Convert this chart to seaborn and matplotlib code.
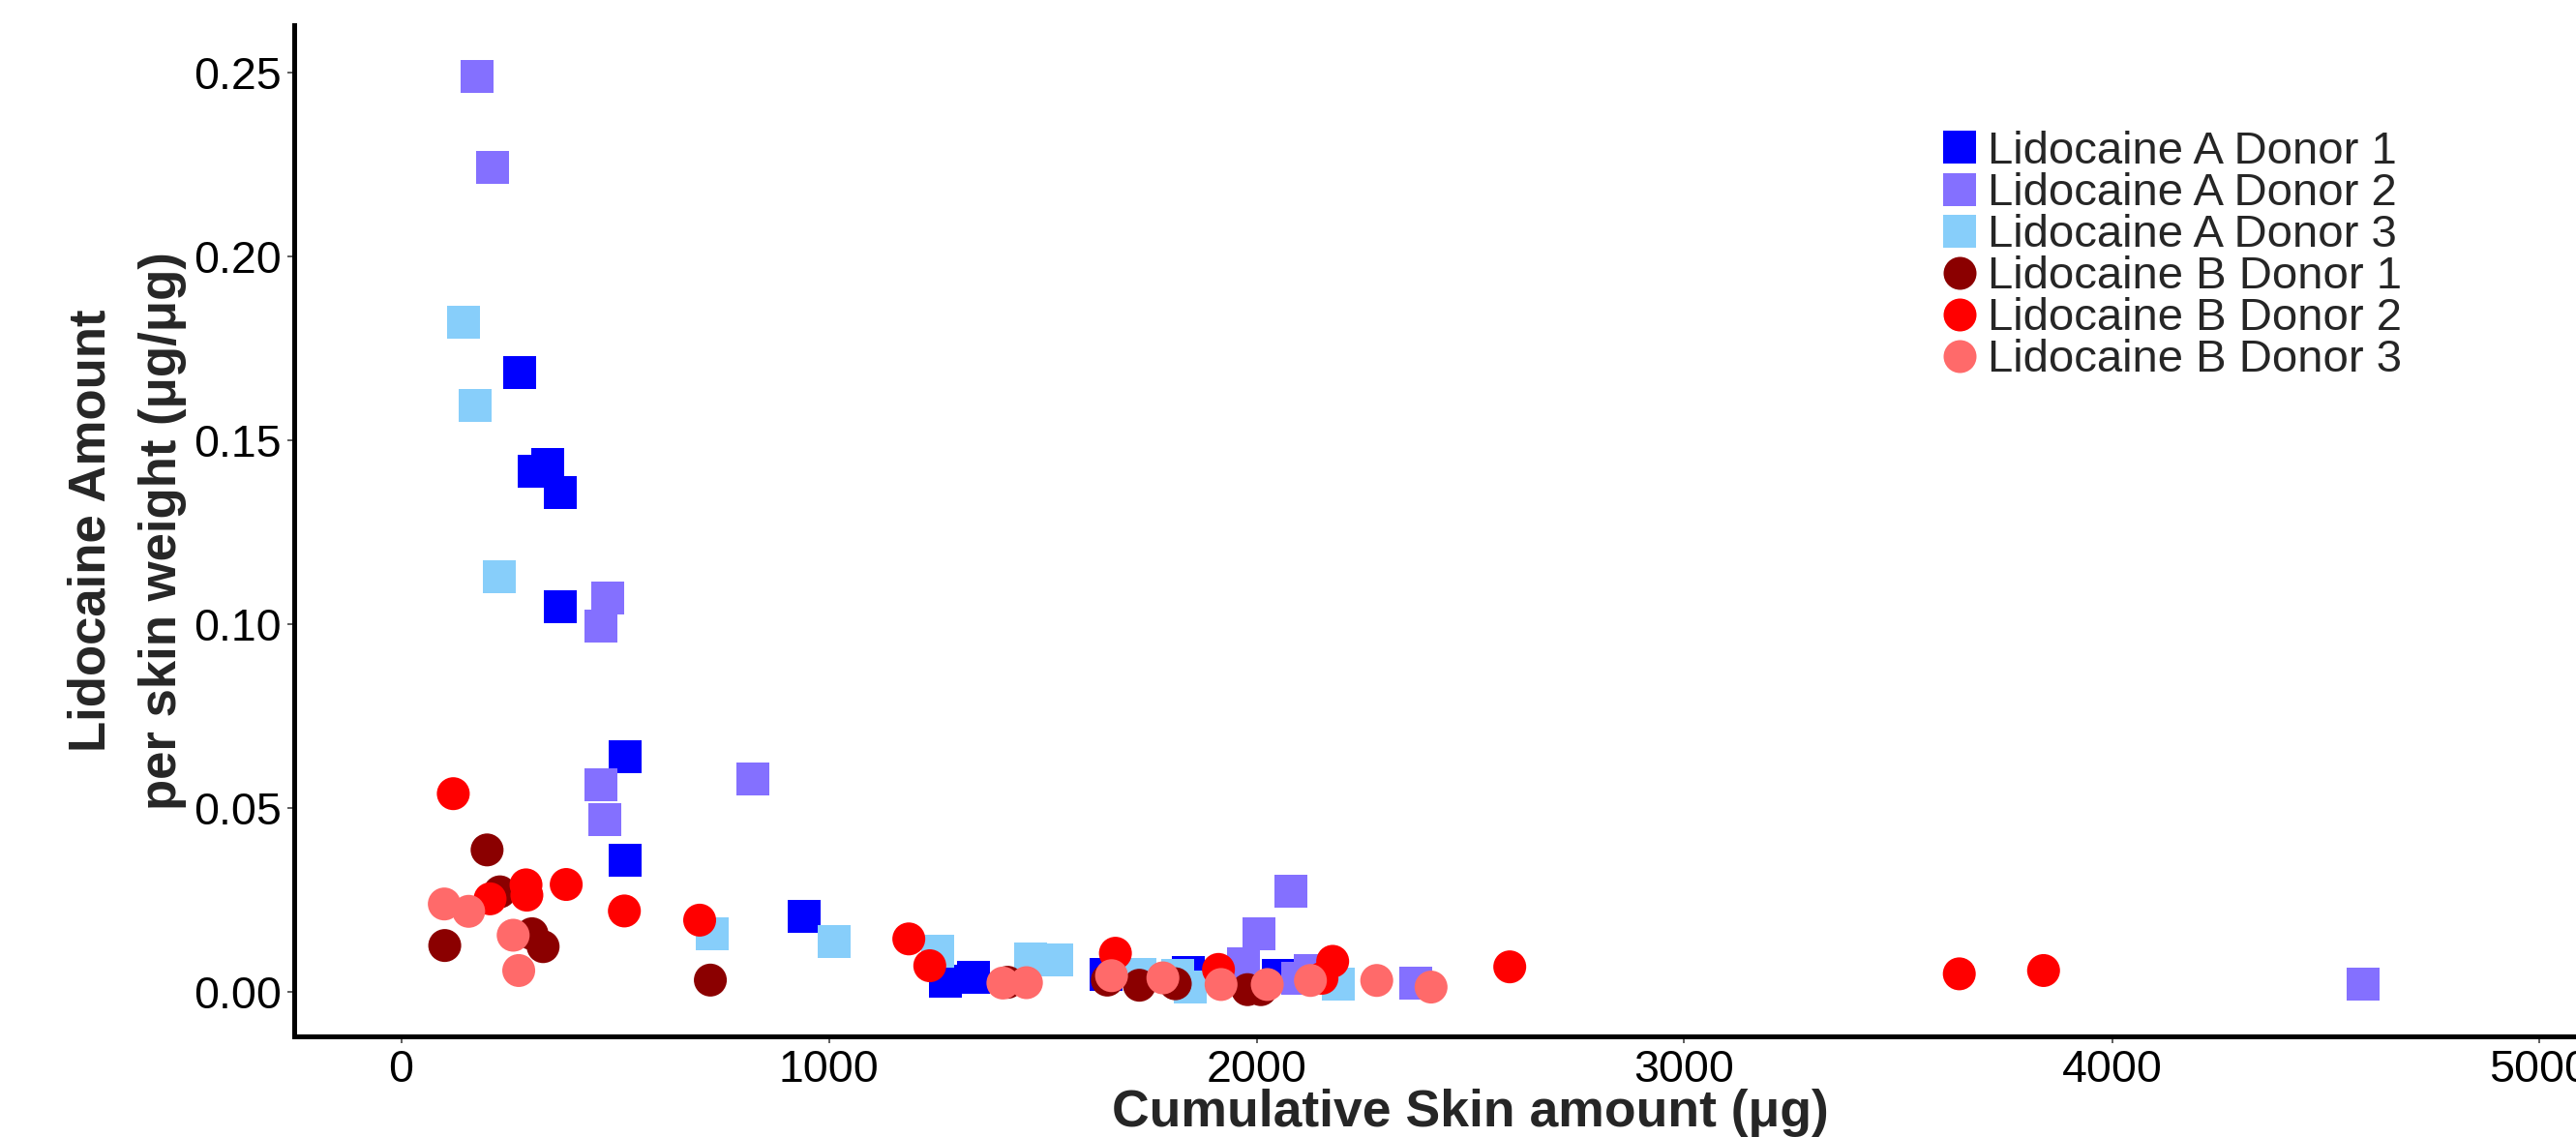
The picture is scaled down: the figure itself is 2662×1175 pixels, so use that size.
import numpy as np
import pandas as pd
import matplotlib
matplotlib.use("Agg")
import matplotlib.pyplot as plt
from matplotlib.lines import Line2D
from matplotlib.ticker import FormatStrFormatter
import seaborn as sns

# Cumulative skin amount (µg) and lidocaine amount per skin weight (µg/µg)
a1_x = [278, 312, 343, 373, 373, 523, 523, 943, 1272, 1338, 1648, 1841, 2050]
a1_y = [0.1683, 0.1416, 0.1435, 0.1359, 0.1047, 0.0639, 0.0357, 0.0206, 0.0028, 0.0039, 0.0047, 0.0053, 0.0044]

a2_x = [178, 213, 483, 468, 468, 477, 823, 1970, 2006, 2081, 2097, 2125, 2372, 4587]
a2_y = [0.2489, 0.2242, 0.1072, 0.0995, 0.0564, 0.0469, 0.0579, 0.0077, 0.0157, 0.0274, 0.0036, 0.0059, 0.0023, 0.0022]

a3_x = [147, 174, 229, 728, 1012, 1255, 1471, 1532, 1727, 1815, 1844, 2191]
a3_y = [0.1820, 0.1594, 0.1129, 0.0159, 0.0136, 0.0110, 0.0090, 0.0087, 0.0047, 0.0045, 0.0013, 0.0021]

b1_x = [102, 201, 231, 306, 332, 723, 1418, 1651, 1726, 1810, 1979, 2010]
b1_y = [0.0126, 0.0386, 0.0272, 0.0158, 0.0123, 0.0032, 0.0026, 0.0032, 0.0018, 0.0022, 0.0006, 0.0006]

b2_x = [122, 208, 292, 294, 386, 522, 698, 1187, 1236, 1670, 1911, 2153, 2178, 2592, 3643, 3840]
b2_y = [0.0539, 0.0253, 0.0291, 0.0263, 0.0292, 0.0220, 0.0195, 0.0144, 0.0071, 0.0105, 0.0061, 0.0037, 0.0083, 0.0068, 0.0049, 0.0058]

b3_x = [101, 158, 262, 275, 1407, 1462, 1661, 1781, 1917, 2025, 2126, 2281, 2408]
b3_y = [0.0239, 0.0219, 0.0154, 0.0058, 0.0024, 0.0025, 0.0044, 0.0038, 0.0020, 0.0020, 0.0031, 0.0031, 0.0013]

series_names = ["Lidocaine A Donor 1", "Lidocaine A Donor 2", "Lidocaine A Donor 3",
                "Lidocaine B Donor 1", "Lidocaine B Donor 2", "Lidocaine B Donor 3"]
series_colors = ["#0000FF", "#8470FF", "#87CEFA", "#8B0000", "#FF0000", "#FF6A6A"]
series_markers = ["s", "s", "s", "o", "o", "o"]

x_ticks = [0, 1000, 2000, 3000, 4000, 5000]
y_ticks = [0.00, 0.05, 0.10, 0.15, 0.20, 0.25]

xs_all = [a1_x, a2_x, a3_x, b1_x, b2_x, b3_x]
ys_all = [a1_y, a2_y, a3_y, b1_y, b2_y, b3_y]
df = pd.concat(
    [pd.DataFrame({"x": xs, "y": ys, "series": name})
     for name, xs, ys in zip(series_names, xs_all, ys_all)],
    ignore_index=True,
)

sns.set_style("white")
plt.rcParams["font.family"] = ["Liberation Sans", "DejaVu Sans"]
plt.rcParams["mathtext.default"] = "regular"

W, H = 2662, 1175
fig = plt.figure(figsize=(W / 100, H / 100), dpi=100)
# the panel runs a little past the right edge of the canvas
left_px, right_px, top_px, bottom_px = 304, 2735, 26.4, 1070.6
ax = fig.add_axes([left_px / W, (H - bottom_px) / H,
                   (right_px - left_px) / W, (bottom_px - top_px) / H])

marker_size = 600
sns.scatterplot(
    data=df, x="x", y="y",
    hue="series", style="series",
    hue_order=series_names, style_order=series_names,
    palette=dict(zip(series_names, series_colors)),
    markers=dict(zip(series_names, series_markers)),
    s=marker_size, linewidth=0, alpha=1.0,
    legend=False, ax=ax,
)

ax.set_xlim(-250, 5250)
ax.set_ylim(-0.012, 0.2628)
ax.set_xticks(x_ticks)
ax.set_xticklabels([str(t) for t in x_ticks])
ax.set_yticks(y_ticks)
ax.yaxis.set_major_formatter(FormatStrFormatter("%.2f"))

for side in ("top", "right"):
    ax.spines[side].set_visible(False)
for side in ("left", "bottom"):
    ax.spines[side].set_color("black")
    ax.spines[side].set_linewidth(3.6)

ax.tick_params(axis="both", which="major", direction="out", length=5, width=1.1,
               color="#333333", labelcolor="black", labelsize=33.5,
               bottom=True, left=True, top=False, right=False)
ax.tick_params(axis="x", pad=4.5)
ax.tick_params(axis="y", pad=4.5)

ax.set_xlabel("Cumulative Skin amount (μg)", fontsize=38.5, fontweight="bold",
              va="baseline")
ax.xaxis.set_label_coords(0.5, (bottom_px - 1164) / (bottom_px - top_px))

ax.set_ylabel("Lidocaine Amount\nper skin weight (μg/μg)", fontsize=38,
              fontweight="bold", va="center", ha="center",
              multialignment="center", linespacing=1.6)
ax.yaxis.set_label_coords((131 - left_px) / (right_px - left_px), 0.5)

handles = [
    Line2D([], [], linestyle="", marker=m, markersize=np.sqrt(marker_size),
           markerfacecolor=c, markeredgewidth=0, color=c)
    for c, m in zip(series_colors, series_markers)
]
ax.legend(handles, series_names, loc="upper left",
          bbox_to_anchor=(2006 / W, 1 - 135 / H), bbox_transform=fig.transFigure,
          frameon=False, fontsize=34, borderpad=0, borderaxespad=0,
          handlelength=0.8, handleheight=0.7, handletextpad=0.22,
          labelspacing=-0.02)

fig.savefig("out.png", dpi=100, facecolor="white")
